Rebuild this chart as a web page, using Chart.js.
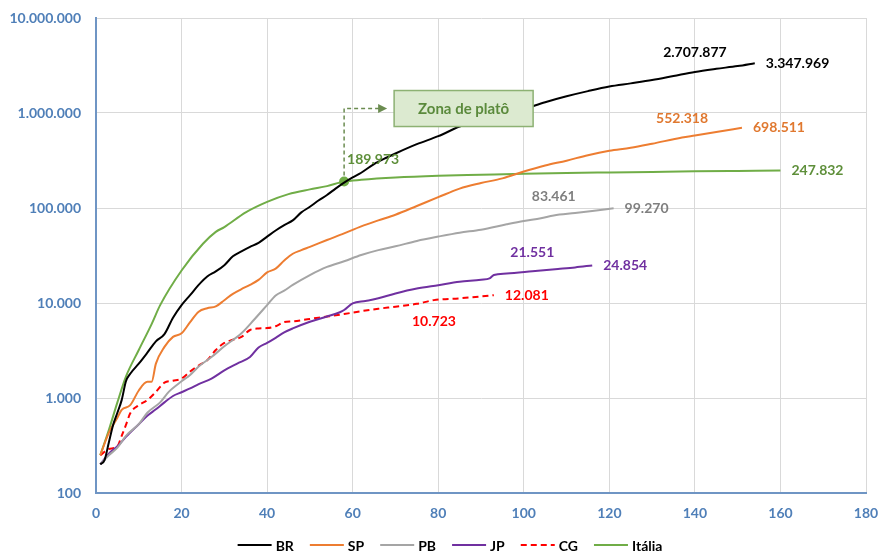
<!DOCTYPE html>
<html>
<head>
<meta charset="utf-8">
<title>Casos acumulados</title>
<script src="https://cdn.jsdelivr.net/npm/chart.js@4.4.1/dist/chart.umd.min.js"></script>
<style>
  html, body { margin: 0; padding: 0; background: #ffffff; }
  #c { display: block; }
</style>
</head>
<body>
<canvas id="c" width="880" height="554"></canvas>
<script>
// Cumulative cases by day since the 200th case (log scale)
const brDays  = [1,2,3,4,5,6,7,8,10,12,14,16,18,20,22,24,26,28,30,32,34,36,38,40,42,44,46,48,50,52,54,56,58,60,62,65,68,70,75,80,85,90,95,100,105,110,115,120,125,130,135,140,145,150,154];
const brCases = [200,222,340,520,700,950,1500,1800,2300,3000,3950,4700,7000,9500,12100,15500,19000,21500,25000,31000,35000,39000,43000,50000,58000,66000,74000,90000,103000,120000,137000,160000,185000,210000,235000,290000,340000,375000,470000,570000,720000,850000,960000,1100000,1300000,1500000,1700000,1900000,2050000,2220000,2450000,2707877,2920000,3120000,3347969];

const spDays  = [1,3,5,6,8,10,12,13,14,16,18,20,22,24,26,28,30,32,34,36,38,40,42,44,46,48,50,54,58,62,66,70,75,80,85,90,95,100,105,110,115,120,125,130,137,140,145,151];
const spCases = [250,430,620,750,840,1200,1480,1480,2300,3450,4400,4800,6300,8100,8800,9200,10700,12500,14000,15500,17500,21000,23000,28000,33000,36000,39000,46000,54000,64000,74000,85000,105000,130000,160000,183000,205000,242000,280000,315000,360000,400000,430000,475000,552318,580000,630000,698511];

const pbDays  = [1,3,5,7,10,12,15,17,20,22,24,27,30,34,37,40,42,44,46,50,54,58,62,66,70,75,80,85,90,96,100,104,107,112,116,121];
const pbCases = [200,250,300,400,530,700,900,1160,1500,1750,2150,2700,3500,4800,6700,9500,12000,13500,15500,19700,24000,27500,32000,36000,39500,45000,50000,55000,59000,67300,73000,78000,83461,88500,93000,99270];

const jpDays  = [1,3,5,7,10,12,14,16,18,20,22,24,27,30,33,36,38,40,42,44,46,50,54,57,58,60,63,66,70,75,80,85,90,92,93,96,102,108,112,116];
const jpCases = [200,260,310,390,530,650,760,900,1050,1150,1260,1400,1600,1950,2300,2700,3400,3800,4300,4900,5400,6350,7200,8000,8440,9900,10500,11200,12600,14200,15400,16700,17600,18200,19700,20400,21551,22800,23700,24854];

const cgDays  = [1,3,5,6,7,8,10,12,14,16,18,20,22,24,26,28,30,32,34,36,38,40,42,44,46,50,54,58,62,66,70,75,79,85,93];
const cgCases = [250,290,310,400,520,690,840,950,1160,1450,1520,1600,1900,2200,2500,3200,3800,4100,4400,5200,5400,5450,5700,6300,6400,6800,7200,7650,8200,8700,9150,9800,10723,11200,12081];

const itDays  = [1,3,5,7,10,13,15,20,25,28,30,35,40,45,50,54,58,62,70,80,90,100,110,120,130,140,150,160];
const itCases = [250,460,900,1680,3200,6000,9500,22000,42000,56000,63000,90000,116000,140000,157000,170000,189973,198000,209000,218000,224000,230000,234000,237000,240000,243000,245500,247832];

const yTicks = [100, 1000, 10000, 100000, 1000000, 10000000];
const plateauDay = 58;   // Itália reaches the plateau

const series = [
  { label: 'BR',     days: brDays, cases: brCases, line: '#000000', text: '#000000' },
  { label: 'SP',     days: spDays, cases: spCases, line: '#ED7D31', text: '#E0782F' },
  { label: 'PB',     days: pbDays, cases: pbCases, line: '#A5A5A5', text: '#7F7F7F' },
  { label: 'JP',     days: jpDays, cases: jpCases, line: '#7030A0', text: '#7030A0' },
  { label: 'CG',     days: cgDays, cases: cgCases, line: '#FF0000', text: '#FF0000', dash: [6, 4] },
  { label: 'Itália', days: itDays, cases: itCases, line: '#70AD47', text: '#5E8F3A' }
];

// value labels: which series, which day, where the text sits
const valueLabels = [
  { set: 0, day: 154, pos: 'right' },
  { set: 0, day: 140, pos: 'above' },
  { set: 1, day: 151, pos: 'right' },
  { set: 1, day: 137, pos: 'above' },
  { set: 2, day: 121, pos: 'right' },
  { set: 2, day: 107, pos: 'above' },
  { set: 3, day: 116, pos: 'right' },
  { set: 3, day: 102, pos: 'above' },
  { set: 4, day: 93,  pos: 'right' },
  { set: 4, day: 79,  pos: 'below' },
  { set: 5, day: 160, pos: 'right' },
  { set: 5, day: 58,  pos: 'aboveRight' }
];

const fmt = v => String(Math.round(v)).replace(/\B(?=(\d{3})+(?!\d))/g, '.');
const FONT = 'Lato, "Open Sans", sans-serif';
const AXIS_BLUE = '#4F7FB8';

const valueLabelPlugin = {
  id: 'valueLabels',
  afterDatasetsDraw(chart) {
    const { ctx, scales: { x, y } } = chart;
    ctx.save();
    ctx.font = 'bold 14px ' + FONT;
    ctx.textBaseline = 'middle';
    for (const l of valueLabels) {
      const s = series[l.set];
      const v = s.cases[s.days.indexOf(l.day)];
      const px = x.getPixelForValue(l.day);
      const py = y.getPixelForValue(v);
      let tx = px, ty = py;
      if (l.pos === 'right') { ctx.textAlign = 'left'; tx = px + 11; }
      else if (l.pos === 'above') { ctx.textAlign = 'center'; ty = py - 19; }
      else if (l.pos === 'below') { ctx.textAlign = 'center'; ty = py + 21; }
      else { ctx.textAlign = 'left'; tx = px + 3; ty = py - 22; }
      ctx.fillStyle = s.text;
      ctx.fillText(fmt(v), tx, ty);
    }
    ctx.restore();
  }
};

// "Zona de platô" call-out with a dashed elbow arrow from the plateau point
const plateauNote = {
  id: 'plateauNote',
  afterDatasetsDraw(chart) {
    const { ctx, scales: { x, y } } = chart;
    const it = series[5];
    const px = x.getPixelForValue(plateauDay);
    const py = y.getPixelForValue(it.cases[it.days.indexOf(plateauDay)]);
    const turnY = py - 73;
    const tipX = px + 43;
    ctx.save();
    ctx.strokeStyle = '#6B8C50';
    ctx.fillStyle = '#6B8C50';
    ctx.lineWidth = 1.5;
    ctx.setLineDash([4, 3]);
    ctx.beginPath();
    ctx.moveTo(px, py - 6);
    ctx.lineTo(px, turnY);
    ctx.lineTo(tipX - 8, turnY);
    ctx.stroke();
    ctx.setLineDash([]);
    ctx.beginPath();
    ctx.moveTo(tipX, turnY);
    ctx.lineTo(tipX - 9, turnY - 4.5);
    ctx.lineTo(tipX - 9, turnY + 4.5);
    ctx.closePath();
    ctx.fill();

    const bx = px + 50, by = turnY - 18, bw = 139, bh = 36;
    ctx.fillStyle = '#DCEAD0';
    ctx.fillRect(bx, by, bw, bh);
    ctx.strokeStyle = '#8DB173';
    ctx.lineWidth = 1.5;
    ctx.strokeRect(bx, by, bw, bh);
    ctx.fillStyle = '#5B8A3C';
    ctx.font = 'bold 15px ' + FONT;
    ctx.textAlign = 'center';
    ctx.textBaseline = 'middle';
    ctx.fillText('Zona de platô', bx + bw / 2, by + bh / 2 + 1);
    ctx.restore();
  }
};

// legend row under the x axis, styled from each dataset
const legendRow = {
  id: 'legendRow',
  afterDraw(chart) {
    const { ctx } = chart;
    const sample = 34, gap = 4, spacing = 16;
    ctx.save();
    ctx.font = 'bold 14px ' + FONT;
    ctx.textBaseline = 'middle';
    ctx.textAlign = 'left';
    const widths = chart.data.datasets.map(ds => sample + gap + ctx.measureText(ds.label).width);
    const total = widths.reduce((a, b) => a + b, 0) + spacing * (widths.length - 1);
    let cx = 450 - total / 2;
    const cy = 545;
    chart.data.datasets.forEach((ds, i) => {
      ctx.strokeStyle = ds.borderColor;
      ctx.lineWidth = 2;
      ctx.setLineDash(ds.borderDash || []);
      ctx.beginPath();
      ctx.moveTo(cx, cy);
      ctx.lineTo(cx + sample, cy);
      ctx.stroke();
      ctx.setLineDash([]);
      ctx.fillStyle = '#000000';
      ctx.fillText(ds.label, cx + sample + gap, cy + 1);
      cx += widths[i] + spacing;
    });
    ctx.restore();
  }
};

const datasets = series.map(s => ({
  label: s.label,
  data: s.days.map((d, i) => ({ x: d, y: s.cases[i] })),
  borderColor: s.line,
  backgroundColor: s.line,
  borderWidth: 2,
  borderDash: s.dash || [],
  fill: false,
  cubicInterpolationMode: 'monotone',
  pointRadius: s.label === 'Itália' ? (c => (c.raw && c.raw.x === plateauDay ? 5 : 0)) : 0,
  pointHoverRadius: 0,
  pointBackgroundColor: s.line,
  pointBorderColor: s.line,
  pointBorderWidth: 0
}));

new Chart(document.getElementById('c'), {
  type: 'line',
  data: { datasets },
  options: {
    responsive: false,
    animation: false,
    devicePixelRatio: 1,
    layout: { padding: { left: 10, right: 14, top: 18, bottom: 31 } },
    scales: {
      x: {
        type: 'linear',
        min: 0, max: 180,
        ticks: { stepSize: 20, padding: 12, color: AXIS_BLUE, font: { family: FONT, size: 14, weight: 'bold' } },
        grid: { color: '#D9D9D9', drawTicks: false },
        border: { color: '#6F95C4', width: 2 },
        afterFit(s) { s.height = 30; s.paddingLeft = 0; s.paddingRight = 0; }
      },
      y: {
        type: 'logarithmic',
        min: 100, max: 10000000,
        afterBuildTicks(s) { s.ticks = yTicks.map(v => ({ value: v })); },
        ticks: { padding: 15, color: AXIS_BLUE, font: { family: FONT, size: 14, weight: 'bold' }, callback: v => fmt(v) },
        grid: { color: '#D9D9D9', drawTicks: false },
        border: { color: '#6F95C4', width: 2 },
        afterFit(s) { s.width = 86; s.paddingTop = 0; s.paddingBottom = 0; }
      }
    },
    plugins: {
      tooltip: { enabled: false },
      legend: { display: false }
    }
  },
  plugins: [valueLabelPlugin, plateauNote, legendRow]
});
</script>
</body>
</html>
